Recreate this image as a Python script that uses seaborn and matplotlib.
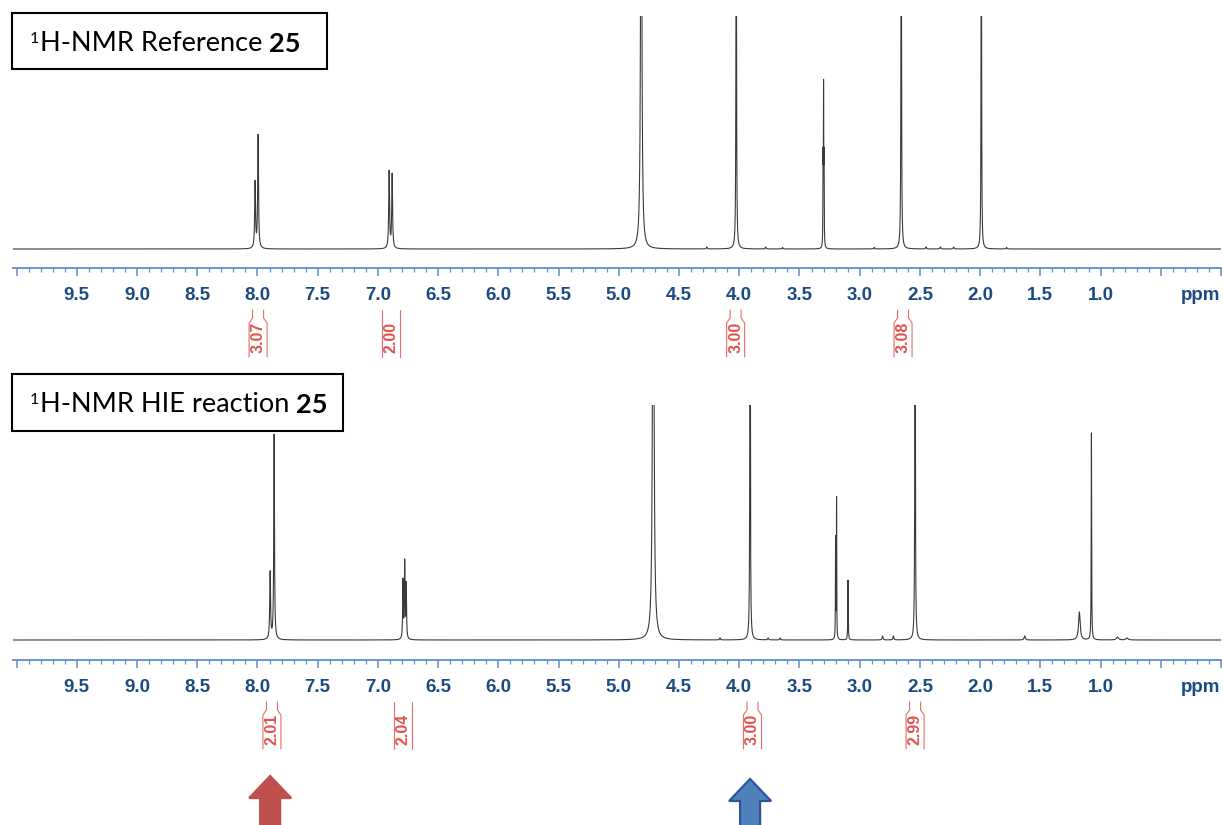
import numpy as np
import pandas as pd
import matplotlib
matplotlib.use("Agg")
import matplotlib.pyplot as plt
import matplotlib.transforms as mtransforms
from matplotlib.patches import Rectangle, Polygon
from matplotlib.ticker import FixedLocator, MultipleLocator
import seaborn as sns

# ---------------- data ----------------
# reference spectrum: peak shifts (ppm), heights (arb.), half widths (ppm)
ref_shift = [8.020, 7.995, 6.907, 6.882, 4.814, 4.025, 3.304, 3.300, 3.296,
             2.655, 1.990, 4.27, 3.78, 3.64, 2.88, 2.45, 2.33, 2.22, 1.78]
ref_height = [66, 113, 77, 74, 600, 450, 80, 150, 80,
              450, 450, 2, 2, 1.5, 1.5, 2, 2, 2, 1.5]
ref_hwhm = [0.004, 0.004, 0.004, 0.004, 0.005, 0.0025, 0.0015, 0.0015, 0.0015,
            0.0025, 0.0022, 0.004, 0.004, 0.004, 0.004, 0.004, 0.004, 0.004, 0.004]

# HIE reaction spectrum
hie_shift = [7.895, 7.862, 6.792, 6.778, 6.765, 4.714, 3.910, 3.200, 3.192,
             3.097, 2.81, 2.72, 2.540, 1.63, 1.176, 1.076, 0.86, 0.78,
             4.16, 3.76, 3.66]
hie_height = [67, 205, 58, 76, 54, 600, 450, 100, 140,
              60, 4, 4, 450, 4, 28, 207, 3, 2,
              2, 2, 2]
hie_hwhm = [0.004, 0.0035, 0.003, 0.003, 0.003, 0.006, 0.0025, 0.0015, 0.0015,
            0.002, 0.004, 0.004, 0.0025, 0.006, 0.008, 0.002, 0.01, 0.01,
            0.004, 0.004, 0.004]

major_ticks = [10.0, 9.5, 9.0, 8.5, 8.0, 7.5, 7.0, 6.5, 6.0, 5.5, 5.0, 4.5,
               4.0, 3.5, 3.0, 2.5, 2.0, 1.5, 1.0, 0.5, 0.0]
tick_labels = ["", "9.5", "9.0", "8.5", "8.0", "7.5", "7.0", "6.5", "6.0", "5.5",
               "5.0", "4.5", "4.0", "3.5", "3.0", "2.5", "2.0", "1.5", "1.0", "", ""]

ref_int_pos = [7.995, 6.89, 4.03, 2.64]
ref_int_val = ["3.07", "2.00", "3.00", "3.08"]
ref_int_flare = [True, False, True, True]
hie_int_pos = [7.88, 6.79, 3.89, 2.54]
hie_int_val = ["2.01", "2.04", "3.00", "2.99"]
hie_int_flare = [True, False, True, True]

title_ref = ("1", "H-NMR Reference", "25")
title_hie = ("1", "H-NMR HIE reaction", "25")

arrow_red_ppm = 7.895
arrow_blue_ppm = 3.91

# ---------------- style ----------------
W, H = 1223, 825
AXIS_BLUE = "#5d8fc9"
LABEL_BLUE = "#1d4a82"
INT_RED = "#e0544c"
LINE_COL = "#3a3a3a"

sns.set_theme(style="white")
plt.rcParams["font.family"] = ["Liberation Sans", "DejaVu Sans"]

fig = plt.figure(figsize=(W / 100, H / 100), dpi=100)
fig.patch.set_facecolor("white")

grid = np.linspace(10.03, 0.0, 26000)


def spectrum(shifts, heights, hwhm):
    s = np.asarray(shifts)[:, None]
    h = np.asarray(heights)[:, None]
    w = np.asarray(hwhm)[:, None]
    return (h * w ** 2 / ((grid[None, :] - s) ** 2 + w ** 2)).sum(axis=0)


# overlay axes in pixel coordinates
ovl = fig.add_axes([0, 0, 1, 1], zorder=5)
ovl.set_xlim(0, W)
ovl.set_ylim(H, 0)
ovl.axis("off")
ovl.patch.set_alpha(0)


def make_panel(spine_y, top_y, base_off, shifts, heights, hwhm,
               int_pos, int_val, int_flare):
    left, right = 13, 1221
    ax = fig.add_axes([left / W, 1 - spine_y / H, (right - left) / W,
                       (spine_y - top_y) / H])
    df = pd.DataFrame({"ppm": grid, "I": spectrum(shifts, heights, hwhm)})
    sns.lineplot(data=df, x="ppm", y="I", ax=ax, color=LINE_COL,
                 linewidth=0.8, estimator=None, sort=False)
    ax.set_xlim(10.03, 0.0)
    ax.set_ylim(-base_off, spine_y - top_y - base_off)
    ax.set_xlabel("")
    ax.set_ylabel("")
    ax.set_yticks([])
    for s in ("left", "right", "top"):
        ax.spines[s].set_visible(False)
    ax.spines["bottom"].set_color(AXIS_BLUE)
    ax.spines["bottom"].set_linewidth(1.3)
    ax.xaxis.set_major_locator(FixedLocator(major_ticks))
    ax.set_xticklabels(tick_labels, fontweight="bold")
    ax.xaxis.set_minor_locator(MultipleLocator(0.1))
    ax.tick_params(axis="x", which="major", direction="out", length=6,
                   width=1.1, color=AXIS_BLUE, labelsize=13.5,
                   labelcolor=LABEL_BLUE, pad=8, bottom=True)
    ax.tick_params(axis="x", which="minor", direction="out", length=3,
                   width=0.9, color=AXIS_BLUE, bottom=True)
    ax.patch.set_alpha(0)

    blend = mtransforms.blended_transform_factory(ax.transData, ovl.transData)
    ax.text(0.17, spine_y + 19, "ppm", transform=blend, ha="center", va="top",
            fontsize=13.5, fontweight="bold", color=LABEL_BLUE)

    px = 1 / 120.4
    y0, y1, y2, y3 = spine_y + 42, spine_y + 50, spine_y + 55, spine_y + 89
    for pos, val, flare in zip(int_pos, int_val, int_flare):
        for sgn in (-1, 1):
            if flare:
                xs = [pos + sgn * 5.5 * px, pos + sgn * 5.5 * px,
                      pos + sgn * 9 * px, pos + sgn * 9 * px]
                ys = [y0, y1, y2, y3]
            else:
                xs = [pos + sgn * 9 * px] * 2
                ys = [y0, y3]
            ax.plot(xs, ys, transform=blend, color=INT_RED, lw=0.8,
                    clip_on=False, alpha=0.85)
        ax.text(pos, spine_y + 69, val, transform=blend, rotation=90,
                ha="center", va="center", fontsize=11.5, fontweight="bold",
                color=INT_RED)
    return ax, blend


ax_top, blend_top = make_panel(268, 16, 19, ref_shift, ref_height, ref_hwhm,
                               ref_int_pos, ref_int_val, ref_int_flare)
ax_bot, blend_bot = make_panel(660, 405, 20, hie_shift, hie_height, hie_hwhm,
                               hie_int_pos, hie_int_val, hie_int_flare)


def label_box(x0, y0, x1, y1, base, parts):
    ovl.add_patch(Rectangle((x0, y0), x1 - x0, y1 - y0, fill=False,
                            ec="black", lw=1.5))
    sup, main, bold = parts
    s = ovl.text(30, base - 10, sup, fontsize=11.5,
                 family=["Lato", "DejaVu Sans"],
                 va="baseline", ha="left", color="black")
    t = ovl.annotate(main, xy=(1, 0), xycoords=s, xytext=(0.5, -7.2),
                     textcoords="offset points", ha="left", va="bottom",
                     fontsize=19.5, family=["Lato", "DejaVu Sans"],
                     color="black")
    ovl.annotate(bold, xy=(1, 0), xycoords=t, xytext=(5, 0),
                 textcoords="offset points", ha="left", va="bottom",
                 fontsize=19.5, fontweight="bold",
                 family=["Lato", "DejaVu Sans"], color="black")


label_box(12, 13, 327, 69, 53, title_ref)
label_box(12, 374, 343, 431, 414, title_hie)


def up_arrow(ax, ppm, tip_y, fc, ec):
    # x position from the spectrum axis, drawn in pixel coords of overlay
    xd = ax.transData.transform((ppm, 0))[0]
    xc = ovl.transData.inverted().transform((xd, 0))[0]
    verts = [(xc, tip_y), (xc + 21, tip_y + 22), (xc + 10, tip_y + 22),
             (xc + 10, H + 5), (xc - 10, H + 5), (xc - 10, tip_y + 22),
             (xc - 21, tip_y + 22)]
    ovl.add_patch(Polygon(verts, closed=True, fc=fc, ec=ec, lw=1.6,
                          clip_on=True))


up_arrow(ax_bot, arrow_red_ppm, 776, "#c0504d", "#c0504d")
up_arrow(ax_bot, arrow_blue_ppm, 779, "#4f81bd", "#2f5597")

fig.savefig("out.png", dpi=100, facecolor="white")
